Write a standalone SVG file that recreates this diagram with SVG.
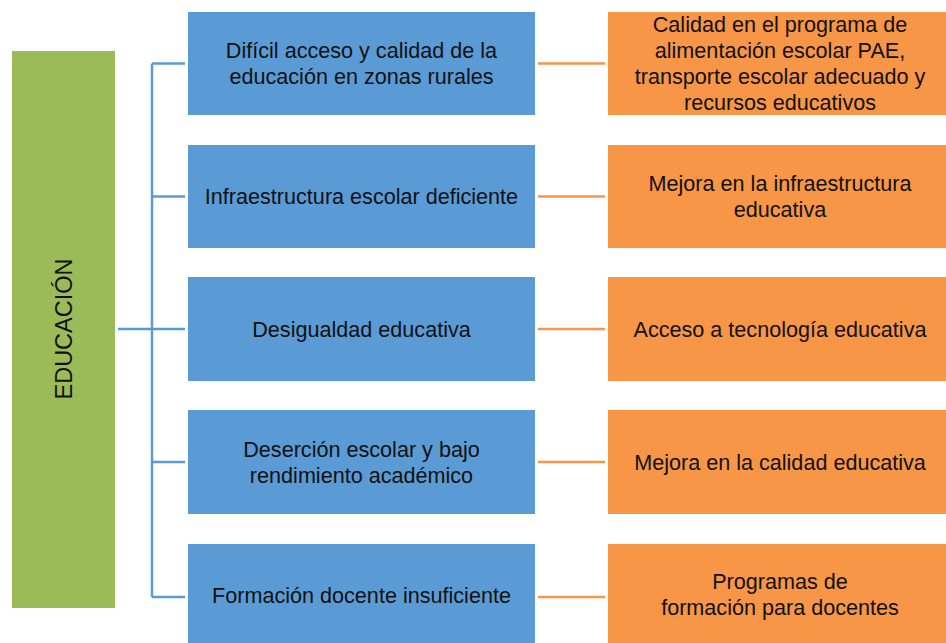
<svg xmlns="http://www.w3.org/2000/svg" width="946" height="643" viewBox="0 0 946 643">
<style>
.blue{fill:#5B9BD5}
.orange{fill:#F79646}
.green{fill:#9BBB59}
text{font-family:"Liberation Sans",Arial,sans-serif;font-size:21.6px;fill:#111;text-anchor:middle}
.lb{stroke:#5B9BD5;stroke-width:2.5;fill:none}
.lo{stroke:#F79646;stroke-width:2.5;fill:none}
</style>
<rect width="946" height="643" fill="#fff"/>
<g id="connectors">
<path class="lb" d="M152,63.5 V597 M152,63.5 H185 M152,196.5 H185 M118,329 H185 M152,462 H185 M152,597 H185"/>
<path class="lo" d="M538,63.5 H605 M538,196.5 H605 M538,329 H605 M538,462 H605 M538,597 H605"/>
</g>
<g id="educacion">
<rect class="green" x="12" y="51" width="103" height="557"/>
<text transform="translate(72,329) rotate(-90)" style="font-size:23.5px">EDUCACIÓN</text>
</g>
<g id="p1">
<rect class="blue" x="188" y="12" width="347" height="103"/>
<text x="361.5" y="57.5">Difícil acceso y calidad de la</text>
<text x="361.5" y="83.5">educación en zonas rurales</text>
</g>
<g id="p2">
<rect class="blue" x="188" y="145" width="347" height="103"/>
<text x="361.5" y="204">Infraestructura escolar deficiente</text>
</g>
<g id="p3">
<rect class="blue" x="188" y="277" width="347" height="104"/>
<text x="361.5" y="336.5">Desigualdad educativa</text>
</g>
<g id="p4">
<rect class="blue" x="188" y="410" width="347" height="104"/>
<text x="361.5" y="456.5">Deserción escolar y bajo</text>
<text x="361.5" y="482.5">rendimiento académico</text>
</g>
<g id="p5">
<rect class="blue" x="188" y="544" width="347" height="103"/>
<text x="361.5" y="603">Formación docente insuficiente</text>
</g>
<g id="s1">
<rect class="orange" x="608" y="12" width="338" height="103"/>
<text x="780" y="32">Calidad en el programa de</text>
<text x="780" y="58">alimentación escolar PAE,</text>
<text x="780" y="84">transporte escolar adecuado y</text>
<text x="780" y="110">recursos educativos</text>
</g>
<g id="s2">
<rect class="orange" x="608" y="145" width="338" height="103"/>
<text x="780" y="191">Mejora en la infraestructura</text>
<text x="780" y="217">educativa</text>
</g>
<g id="s3">
<rect class="orange" x="608" y="277" width="338" height="104"/>
<text x="780" y="336.5">Acceso a tecnología educativa</text>
</g>
<g id="s4">
<rect class="orange" x="608" y="410" width="338" height="104"/>
<text x="780" y="469.5">Mejora en la calidad educativa</text>
</g>
<g id="s5">
<rect class="orange" x="608" y="544" width="338" height="103"/>
<text x="780" y="589">Programas de</text>
<text x="780" y="615">formación para docentes</text>
</g>
</svg>
